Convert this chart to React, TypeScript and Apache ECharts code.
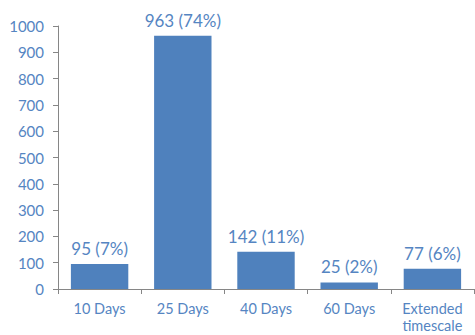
import React, { useEffect, useRef } from "react";
import * as echarts from "echarts";

const categories = ["10 Days", "25 Days", "40 Days", "60 Days", "Extended\ntimescale"];
const values = [95, 963, 142, 25, 77];
const percents = ["7%", "74%", "11%", "2%", "6%"];
const yTicks = [0, 100, 200, 300, 400, 500, 600, 700, 800, 900, 1000];

const BLUE = "#4F81BD";
const TEXT = "#5585C2";
const AXIS = "#868686";
const FONT = "Lato, 'Open Sans', sans-serif";

export default function App() {
  const ref = useRef<HTMLDivElement>(null);
  useEffect(() => {
    if (!ref.current) return;
    const chart = echarts.init(ref.current, null, { renderer: "svg" });
    chart.setOption({
      animation: false,
      grid: {
        left: 58,
        right: 1,
        top: 26,
        bottom: 46,
        containLabel: false,
        outerBoundsMode: "none",
      },
      xAxis: {
        type: "category",
        data: categories,
        boundaryGap: true,
        axisLine: { lineStyle: { color: AXIS, width: 1 } },
        axisTick: { show: true, length: 5, lineStyle: { color: AXIS } },
        axisLabel: {
          color: TEXT,
          fontFamily: FONT,
          fontSize: 14.5,
          margin: 11,
          lineHeight: 17,
          interval: 0,
        },
      },
      yAxis: {
        type: "value",
        min: yTicks[0],
        max: yTicks[yTicks.length - 1],
        interval: 100,
        axisLine: { show: true, lineStyle: { color: AXIS, width: 1 } },
        axisTick: { show: true, length: 5, lineStyle: { color: AXIS } },
        splitLine: { show: false },
        axisLabel: {
          color: TEXT,
          fontFamily: FONT,
          fontSize: 15,
          margin: 14,
          formatter: (v: number) => String(v),
        },
      },
      series: [
        {
          type: "bar",
          data: values,
          barCategoryGap: "31%",
          itemStyle: { color: BLUE },
          label: {
            show: true,
            position: "top",
            distance: 7,
            color: TEXT,
            fontFamily: FONT,
            fontSize: 17,
            formatter: (p: any) => `${values[p.dataIndex]} (${percents[p.dataIndex]})`,
          },
        },
      ],
    });
    return () => chart.dispose();
  }, []);
  return <div ref={ref} style={{ width: 475, height: 335, position: "absolute", left: 0, top: 0 }} />;
}
